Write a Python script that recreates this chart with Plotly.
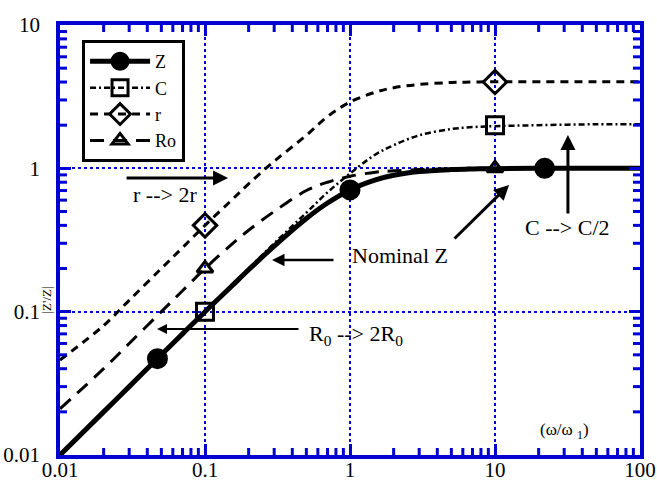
import math
import plotly.graph_objects as go

# Normalised frequency omega/omega_1
freq = [0.01, 0.02, 0.03, 0.05, 0.07, 0.1, 0.15, 0.2, 0.3, 0.5, 0.7, 1,
        1.5, 2, 3, 5, 7, 10, 20, 50, 100]

# |Z'/Z| for the nominal case and each parameter change
z_nom = [0.01, 0.02, 0.03, 0.05, 0.07, 0.1, 0.148, 0.196, 0.287, 0.447, 0.573,
         0.707, 0.83, 0.894, 0.949, 0.98, 0.99, 0.995, 1.0, 1.0, 1.0]
z_c = [0.01, 0.02, 0.03, 0.05, 0.07, 0.1, 0.15, 0.2, 0.3, 0.49, 0.68,
       0.92, 1.25, 1.45, 1.7, 1.88, 1.94, 1.97, 2.0, 2.03, 2.03]
z_r = [0.046, 0.08, 0.12, 0.2, 0.28, 0.4, 0.59, 0.78, 1.12, 1.7, 2.3,
       2.9, 3.4, 3.65, 3.85, 3.97, 4.0, 4.02, 4.02, 4.02, 4.02]
z_ro = [0.021, 0.04, 0.06, 0.1, 0.14, 0.2, 0.29, 0.37, 0.5, 0.7, 0.8,
        0.88, 0.94, 0.96, 0.98, 0.99, 1.0, 1.0, 1.0, 1.0, 1.0]

# Marker locations on each curve
mk_z_x, mk_z_y = [0.047, 1, 22], [0.047, 0.707, 1.0]
mk_c_x, mk_c_y = [0.1, 10], [0.1, 2.0]
mk_r_x, mk_r_y = [0.1, 10], [0.4, 4.0]
mk_ro_x, mk_ro_y = [0.1, 10], [0.2, 1.0]

SERIF = "Liberation Serif, Times New Roman, serif"
BLUE = "#0000D0"
X_DECADES = (-2, 2)
Y_DECADES = (-2, 1)
WIDTH, HEIGHT = 657, 485
MARGIN = dict(l=60, r=17, t=25, b=30)

series = [
    # name, y, marker x, marker y, symbol, size, line width, dash
    ("Z", z_nom, mk_z_x, mk_z_y, "circle", 18, 5, "solid"),
    ("C", z_c, mk_c_x, mk_c_y, "square-open", 17, 2.5, "6px,3px,2px,3px"),
    ("r", z_r, mk_r_x, mk_r_y, "diamond-open", 18, 3, "8px,6px"),
    ("Ro", z_ro, mk_ro_x, mk_ro_y, "triangle-up-open", 14, 3, "14px,9px"),
]

fig = go.Figure()
for name, yv, mx, my, sym, size, lw, dash in series:
    fig.add_trace(go.Scatter(
        x=freq, y=yv, mode="lines", showlegend=False,
        line=dict(color="black", width=lw, dash=dash, shape="spline"),
    ))
for name, yv, mx, my, sym, size, lw, dash in series:
    fig.add_trace(go.Scatter(
        x=mx, y=my, mode="markers", showlegend=False,
        marker=dict(symbol=sym, size=size, color="black",
                    line=dict(color="black", width=3)),
    ))
    # legend entry combining line style and marker
    fig.add_trace(go.Scatter(
        x=[None], y=[None], mode="lines+markers", name=name,
        line=dict(color="black", width=lw, dash=dash),
        marker=dict(symbol=sym, size=size, color="black",
                    line=dict(color="black", width=3)),
    ))

axis_common = dict(
    type="log", showline=True, linecolor=BLUE, linewidth=3.5, mirror="ticks",
    automargin=False,
    tickmode="linear", tick0=0, dtick=1, exponentformat="none",
    ticks="inside", ticklen=11, tickwidth=3, tickcolor=BLUE,
    showgrid=True, gridcolor=BLUE, gridwidth=2, griddash="dot",
    zeroline=False,
    tickfont=dict(family=SERIF, size=21, color="black"),
)
fig.update_xaxes(range=list(X_DECADES), ticklabelstandoff=-7, **axis_common)
fig.update_yaxes(range=list(Y_DECADES), ticklabelstandoff=12, **axis_common)


def minor_fractions(lo, hi):
    """Axis fractions of the 2..9 sub-decade positions between 10**lo and 10**hi."""
    return [(d + math.log10(m) - lo) / (hi - lo)
            for d in range(lo, hi) for m in range(2, 10)]


# Inward minor ticks on all four sides of the frame (7 px long)
plot_w = WIDTH - MARGIN["l"] - MARGIN["r"]
plot_h = HEIGHT - MARGIN["t"] - MARGIN["b"]
tx = 7.0 / plot_h
ty = 7.0 / plot_w
tick_line = dict(color=BLUE, width=3)
shapes = []
for f in minor_fractions(*X_DECADES):
    shapes.append(dict(type="line", xref="paper", yref="paper",
                       x0=f, x1=f, y0=0, y1=tx, line=tick_line))
    shapes.append(dict(type="line", xref="paper", yref="paper",
                       x0=f, x1=f, y0=1 - tx, y1=1, line=tick_line))
for f in minor_fractions(*Y_DECADES):
    shapes.append(dict(type="line", xref="paper", yref="paper",
                       x0=0, x1=ty, y0=f, y1=f, line=tick_line))
    shapes.append(dict(type="line", xref="paper", yref="paper",
                       x0=1 - ty, x1=1, y0=f, y1=f, line=tick_line))
fig.update_layout(shapes=shapes)

ann_font = dict(family=SERIF, size=22, color="black")
annotations = [
    # r --> 2r
    dict(x=-0.841, y=-0.067, ax=-103, ay=0, text="", showarrow=True,
         arrowhead=2, arrowsize=1, arrowwidth=3, arrowcolor="black"),
    dict(x=-1.276, y=-0.186, text="r --> 2r", showarrow=False, font=ann_font),
    # Nominal Z
    dict(x=-0.538, y=-0.640, ax=63, ay=0, text="", showarrow=True,
         arrowhead=2, arrowsize=1, arrowwidth=2.5, arrowcolor="black"),
    dict(x=0.345, y=-0.605, text="Nominal Z", showarrow=False, font=ann_font),
    # R0 --> 2R0
    dict(x=-1.331, y=-1.121, ax=143, ay=0, text="", showarrow=True,
         arrowhead=2, arrowsize=1, arrowwidth=2, arrowcolor="black"),
    dict(x=0.04, y=-1.16, text="R<sub>0</sub> --> 2R<sub>0</sub>",
         showarrow=False, font=ann_font),
    # pointer to the Ro curve
    dict(x=1.097, y=-0.116, ax=-56, ay=55, text="", showarrow=True,
         arrowhead=2, arrowsize=1, arrowwidth=3, arrowcolor="black"),
    # C --> C/2
    dict(x=1.503, y=0.233, ax=0, ay=80, text="", showarrow=True,
         arrowhead=2, arrowsize=1, arrowwidth=3, arrowcolor="black"),
    dict(x=1.503, y=-0.416, text="C --> C/2", showarrow=False, font=ann_font),
    # axis titles
    dict(x=1.48, y=-1.83, text="(\u03c9/\u03c9 <sub>1</sub>)", showarrow=False,
         font=dict(family=SERIF, size=17, color="black")),
    dict(xref="paper", yref="paper", x=-0.04, y=0.36, text="|Z'/Z|",
         textangle=-90, showarrow=False,
         font=dict(family=SERIF, size=13, color="black")),
]
for a in annotations:
    a.setdefault("xref", "x")
    a.setdefault("yref", "y")
fig.update_layout(annotations=annotations)

fig.update_layout(
    width=WIDTH, height=HEIGHT,
    margin=dict(**MARGIN, autoexpand=False),
    paper_bgcolor="white", plot_bgcolor="white",
    showlegend=True,
    legend=dict(x=0.038, y=0.965, xanchor="left", yanchor="top",
                bgcolor="white", bordercolor="black", borderwidth=3,
                font=dict(family=SERIF, size=18, color="black"),
                tracegroupgap=0, itemwidth=60),
)

fig.write_html("out.html")
